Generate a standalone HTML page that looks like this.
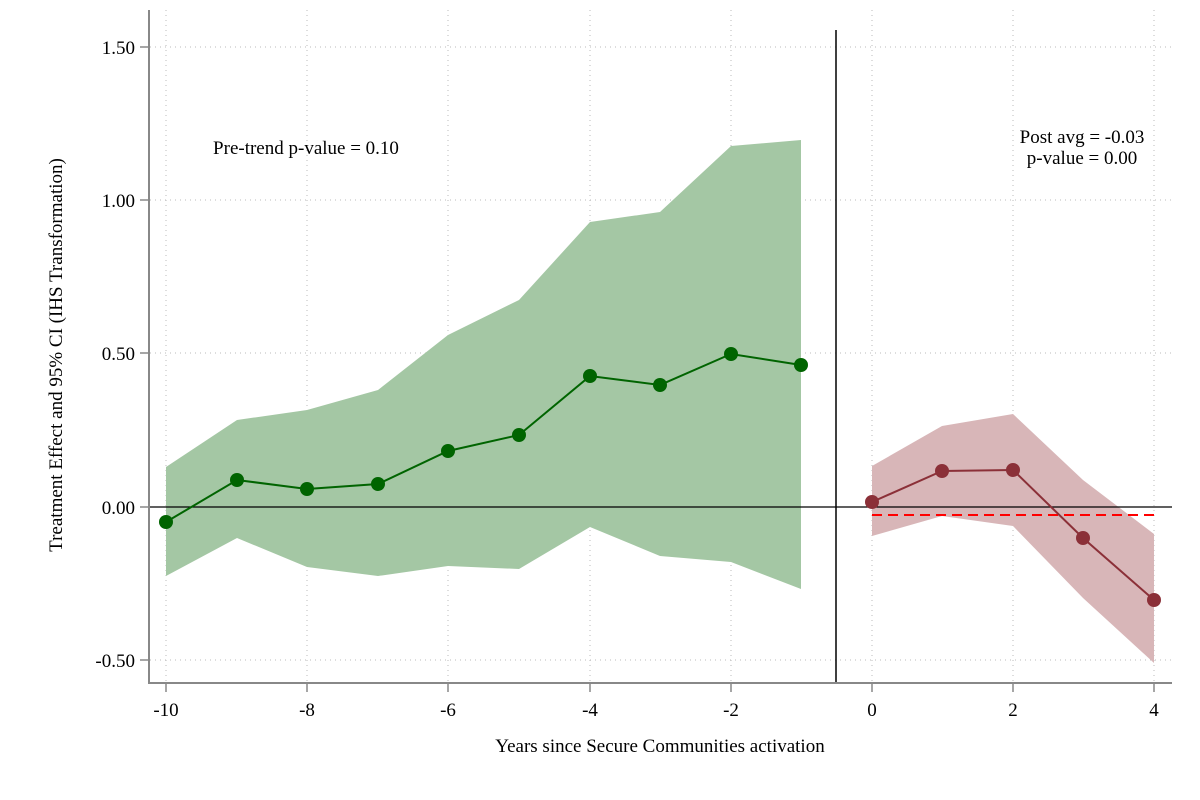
<!DOCTYPE html>
<html><head><style>body{margin:0;background:#fff}svg{display:block}text{font-family:"Liberation Serif",serif;fill:#000}</style></head><body>
<svg width="1200" height="800" viewBox="0 0 1200 800">
<g stroke="#bbb" stroke-width="1" stroke-dasharray="1,4">
<line x1="150" y1="47" x2="1172" y2="47"/><line x1="150" y1="200" x2="1172" y2="200"/><line x1="150" y1="353" x2="1172" y2="353"/><line x1="150" y1="660" x2="1172" y2="660"/>
<line x1="166" y1="10" x2="166" y2="683"/><line x1="307" y1="10" x2="307" y2="683"/><line x1="448" y1="10" x2="448" y2="683"/><line x1="590" y1="10" x2="590" y2="683"/><line x1="731" y1="10" x2="731" y2="683"/><line x1="872" y1="10" x2="872" y2="683"/><line x1="1013" y1="10" x2="1013" y2="683"/><line x1="1154" y1="10" x2="1154" y2="683"/>
</g>
<polygon fill="#a4c7a4" points="166,467 237,420 307,410 378,390 448,335 519,300 590,222 660,212 731,146 801,140 801,589 731,562 660,556 590,527 519,569 448,566 378,576 307,567 237,538 166,576"/>
<polygon fill="#d8b6b8" points="872,466 942,426 1013,414 1083,480 1154,534 1154,663 1083,598 1013,526 942,516 872,536"/>
<line x1="150" y1="507" x2="1172" y2="507" stroke="#000" stroke-width="1.3"/>
<line x1="836" y1="30" x2="836" y2="683" stroke="#000" stroke-width="1.5"/>
<line x1="872" y1="515" x2="1154" y2="515" stroke="#f00" stroke-width="2" stroke-dasharray="10,6"/>
<polyline fill="none" stroke="#006400" stroke-width="2" points="166,522 237,480 307,489 378,484 448,451 519,435 590,376 660,385 731,354 801,365"/>
<g fill="#006400"><circle cx="166" cy="522" r="7"/><circle cx="237" cy="480" r="7"/><circle cx="307" cy="489" r="7"/><circle cx="378" cy="484" r="7"/><circle cx="448" cy="451" r="7"/><circle cx="519" cy="435" r="7"/><circle cx="590" cy="376" r="7"/><circle cx="660" cy="385" r="7"/><circle cx="731" cy="354" r="7"/><circle cx="801" cy="365" r="7"/></g>
<polyline fill="none" stroke="#8b3038" stroke-width="2" points="872,502 942,471 1013,470 1083,538 1154,600"/>
<g fill="#8b3038"><circle cx="872" cy="502" r="7"/><circle cx="942" cy="471" r="7"/><circle cx="1013" cy="470" r="7"/><circle cx="1083" cy="538" r="7"/><circle cx="1154" cy="600" r="7"/></g>
<g stroke="#888" stroke-width="2"><line x1="149" y1="10" x2="149" y2="684"/><line x1="148" y1="683" x2="1172" y2="683"/></g>
<g stroke="#888" stroke-width="1.5"><line x1="140" y1="47" x2="149" y2="47"/><line x1="140" y1="200" x2="149" y2="200"/><line x1="140" y1="353" x2="149" y2="353"/><line x1="140" y1="507" x2="149" y2="507"/><line x1="140" y1="660" x2="149" y2="660"/>
<line x1="166" y1="683" x2="166" y2="692"/><line x1="307" y1="683" x2="307" y2="692"/><line x1="448" y1="683" x2="448" y2="692"/><line x1="590" y1="683" x2="590" y2="692"/><line x1="731" y1="683" x2="731" y2="692"/><line x1="872" y1="683" x2="872" y2="692"/><line x1="1013" y1="683" x2="1013" y2="692"/><line x1="1154" y1="683" x2="1154" y2="692"/></g>
<g font-size="19" text-anchor="end"><text x="135" y="54">1.50</text><text x="135" y="207">1.00</text><text x="135" y="360">0.50</text><text x="135" y="514">0.00</text><text x="135" y="667">-0.50</text></g>
<g font-size="19" text-anchor="middle"><text x="166" y="716">-10</text><text x="307" y="716">-8</text><text x="448" y="716">-6</text><text x="590" y="716">-4</text><text x="731" y="716">-2</text><text x="872" y="716">0</text><text x="1013" y="716">2</text><text x="1154" y="716">4</text>
<text x="660" y="752">Years since Secure Communities activation</text>
<text transform="translate(62,355) rotate(-90)">Treatment Effect and 95% CI (IHS Transformation)</text>
<text x="306" y="154">Pre-trend p-value = 0.10</text>
<text x="1082" y="143">Post avg = -0.03</text><text x="1082" y="164">p-value = 0.00</text></g>
</svg>
</body></html>
